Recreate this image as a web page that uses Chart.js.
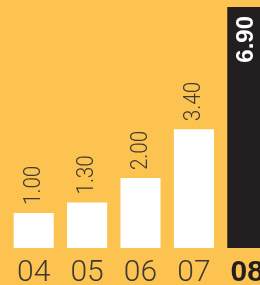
<!DOCTYPE html>
<html>
<head>
<meta charset="utf-8">
<script src="https://cdn.jsdelivr.net/npm/chart.js@4"></script>
<style>
  body { margin: 0; overflow: hidden; background: #fdc350; }
  canvas { display: block; }
</style>
</head>
<body>
<canvas id="grafico" width="274" height="290"></canvas>
<script>
// dados
const anos = ['04', '05', '06', '07', '08'];
const valores = [1.00, 1.30, 2.00, 3.40, 6.90];
const rotulos = ['1.00', '1.30', '2.00', '3.40', '6.90'];

const corTexto = '#3d3a35';
const corPreto = '#231f20';

// rótulos verticais em cima das barras
const rotulosBarras = {
    id: 'rotulosBarras',
    afterDatasetsDraw(chart) {
        const ctx = chart.ctx;
        const barras = chart.getDatasetMeta(0).data;
        barras.forEach((barra, i) => {
            const ultimo = i === barras.length - 1;
            ctx.save();
            if (ultimo) {
                ctx.translate(barra.x + 6, barra.y + 9);
                ctx.rotate(-Math.PI / 2);
                ctx.textAlign = 'right';
                ctx.font = 'bold 24px "Liberation Sans"';
                ctx.fillStyle = '#fff';
            } else {
                ctx.translate(barra.x + 6, barra.y - 8);
                ctx.rotate(-Math.PI / 2);
                ctx.scale(0.9, 1);
                ctx.textAlign = 'left';
                ctx.font = '300 23px Roboto';
                ctx.fillStyle = corTexto;
            }
            ctx.textBaseline = 'alphabetic';
            ctx.fillText(rotulos[i], 0, 0);
            ctx.restore();
        });
    }
};

const grafico = new Chart(document.getElementById('grafico').getContext('2d'), {
    type: 'bar',
    data: {
        labels: anos,
        datasets: [{
            data: valores,
            backgroundColor: ['#fff', '#fff', '#fff', '#fff', corPreto],
            barPercentage: 0.75,
            categoryPercentage: 1
        }]
    },
    options: {
        responsive: false,
        animation: false,
        layout: { padding: { left: 7, right: 0, top: 0, bottom: 0 } },
        plugins: {
            legend: { display: false },
            tooltip: { enabled: false }
        },
        scales: {
            x: {
                grid: { display: false, drawTicks: false },
                border: { display: false },
                ticks: {
                    padding: 2,
                    maxRotation: 0,
                    autoSkip: false,
                    color: (c) => c.index === 4 ? corPreto : corTexto,
                    font: (c) => c.index === 4
                        ? { size: 30, weight: 'bold', family: '"Liberation Sans"', lineHeight: 1 }
                        : { size: 30, weight: '300', family: 'Roboto', lineHeight: 1 }
                }
            },
            y: {
                display: false,
                min: -0.23,
                max: 7.1
            }
        }
    },
    plugins: [rotulosBarras]
});
</script>
</body>
</html>
